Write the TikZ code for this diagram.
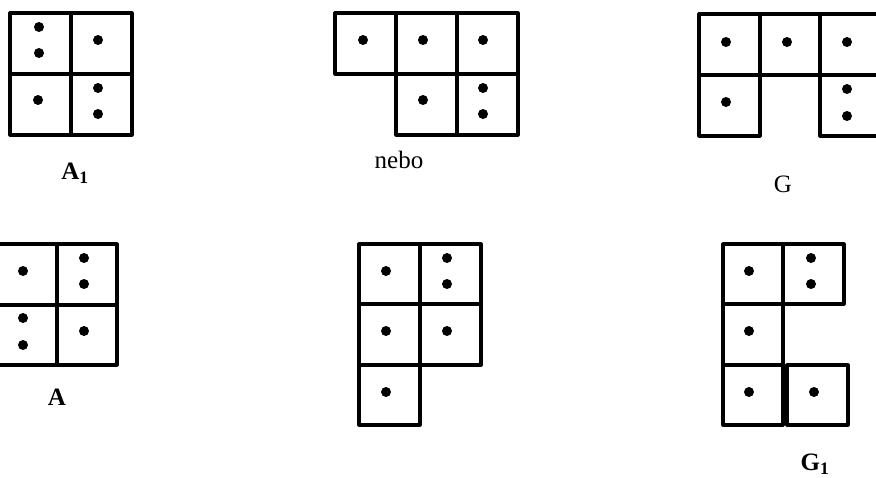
\documentclass[tikz,border=0pt]{standalone}
\usepackage{fontspec}
\setmainfont{Liberation Serif}
\usepackage{xcolor}
\definecolor{gridblack}{RGB}{0,0,0}

\tikzset{
  cellline/.style={draw=gridblack,line width=3.2pt,line join=round,line cap=round},
  pip/.style={fill=gridblack},
  figlabel/.style={font=\fontsize{25}{28}\selectfont\bfseries,inner sep=0pt},
  plainlabel/.style={font=\fontsize{25}{28}\selectfont,inner sep=0pt}
}

\begin{document}
\begin{tikzpicture}[x=1pt,y=-1pt]
\useasboundingbox (0,0) rectangle (876,477);
% A1
\draw[cellline] (10,13) rectangle (132,135);
\draw[cellline] (71,13) -- (71,135);
\draw[cellline] (10,74) -- (132,74);
\foreach \px/\py in {39/27,39/53,98/40,38/100,98/88,98/114}
  \fill[pip] (\px,\py) circle (5);
\node[figlabel] (lblAone) at (75,173) {A\textsubscript{1}};
% nebo
\draw[cellline] (335,13) rectangle (518,74);
\draw[cellline] (396,13) -- (396,135) -- (518,135) -- (518,74);
\draw[cellline] (457,13) -- (457,135);
\foreach \px/\py in {363/40,423/40,483/40,423/100,483/88,483/114}
  \fill[pip] (\px,\py) circle (5);
\node[plainlabel] (lblNebo) at (399,160) {nebo};
% G
\draw[cellline] (699,14) rectangle (890,75);
\draw[cellline] (760,14) -- (760,136) -- (699,136) -- (699,75);
\draw[cellline] (820,14) -- (820,136) -- (890,136);
\foreach \px/\py in {726/42,787/42,847/42,726/102,847/89,847/116}
  \fill[pip] (\px,\py) circle (5);
\node[plainlabel] (lblG) at (783,184) {G};
% A
\draw[cellline] (-4,244) rectangle (117,365);
\draw[cellline] (57,244) -- (57,365);
\draw[cellline] (-4,305) -- (117,305);
\foreach \px/\py in {23/271,84/258,84/284,23/318,23/345,84/331}
  \fill[pip] (\px,\py) circle (5);
\node[figlabel] (lblA) at (57,397) {A};
% middle bottom
\draw[cellline] (359,244) rectangle (481,365);
\draw[cellline] (420,244) -- (420,425) -- (359,425) -- (359,365);
\draw[cellline] (359,304) -- (481,304);
\draw[cellline] (359,365) -- (420,365);
\foreach \px/\py in {386/271,447/258,447/284,386/331,447/331,386/392}
  \fill[pip] (\px,\py) circle (5);
% G1
\draw[cellline] (723,244) rectangle (844,304);
\draw[cellline] (783,244) -- (783,425) -- (723,425) -- (723,304);
\draw[cellline] (723,365) -- (783,365);
\draw[cellline] (787,365) rectangle (848,425);
\foreach \px/\py in {749/271,811/258,811/284,749/331,749/392,814/392}
  \fill[pip] (\px,\py) circle (5);
\node[figlabel] (lblGone) at (815,464) {G\textsubscript{1}};
\end{tikzpicture}
\end{document}
